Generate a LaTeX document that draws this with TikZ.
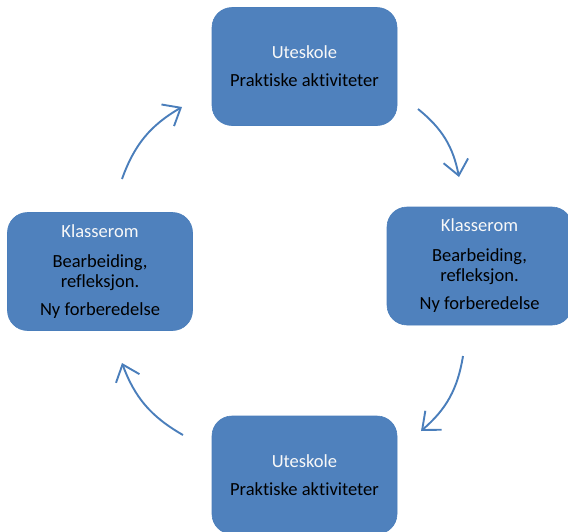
\documentclass[tikz,border=0pt]{standalone}
\usepackage{fontspec}
\setmainfont{Carlito}[Ligatures=NoCommon]
\usetikzlibrary{arrows.meta}
\definecolor{boxblue}{HTML}{4F81BD}
\definecolor{boxedge}{HTML}{4A7EBB}
\definecolor{arrowblue}{HTML}{4A7EBB}
\definecolor{lighttext}{HTML}{F8F8F8}
\tikzset{
  stagebox/.style={rounded corners=20pt, fill=boxblue, draw=boxedge, line width=0.6pt,
    minimum width=185pt, minimum height=118pt, align=center, inner sep=0pt,
    font=\fontsize{18.5}{20}\selectfont, text=black},
  cyclearrow/.style={draw=arrowblue, line width=1.9pt,
    -{Straight Barb[length=15pt, width=25pt, line width=1.9pt]}, bend left=20},
}
\begin{document}
\begin{tikzpicture}[x=1pt, y=-1pt]
\useasboundingbox (0,0) rectangle (568,531);
\clip (0,0) rectangle (568,531);
\node[stagebox] (top) at (304.5,66.5) {\textcolor{lighttext}{Uteskole}\\[8pt]Praktiske aktiviteter};
\node[stagebox] (right) at (479.5,266) {\textcolor{lighttext}{Klasserom}\\[10pt]Bearbeiding,\\refleksjon.\\[8pt]Ny forberedelse};
\node[stagebox] (left) at (100,271.5) {\textcolor{lighttext}{Klasserom}\\[10pt]Bearbeiding,\\refleksjon.\\[8pt]Ny forberedelse};
\node[stagebox] (bottom) at (304.5,475) {\textcolor{lighttext}{Uteskole}\\[8pt]Praktiske aktiviteter};
\coordinate (a1s) at (122,179);
\coordinate (a1e) at (182,107);
\coordinate (a2s) at (418,109);
\coordinate (a2e) at (459,177);
\coordinate (a3s) at (463,356);
\coordinate (a3e) at (421,431);
\coordinate (a4s) at (183,435);
\coordinate (a4e) at (122,363);
\draw[cyclearrow] (a1s) to (a1e);
\draw[cyclearrow] (a2s) to (a2e);
\draw[cyclearrow] (a3s) to (a3e);
\draw[cyclearrow] (a4s) to (a4e);
\end{tikzpicture}
\end{document}
